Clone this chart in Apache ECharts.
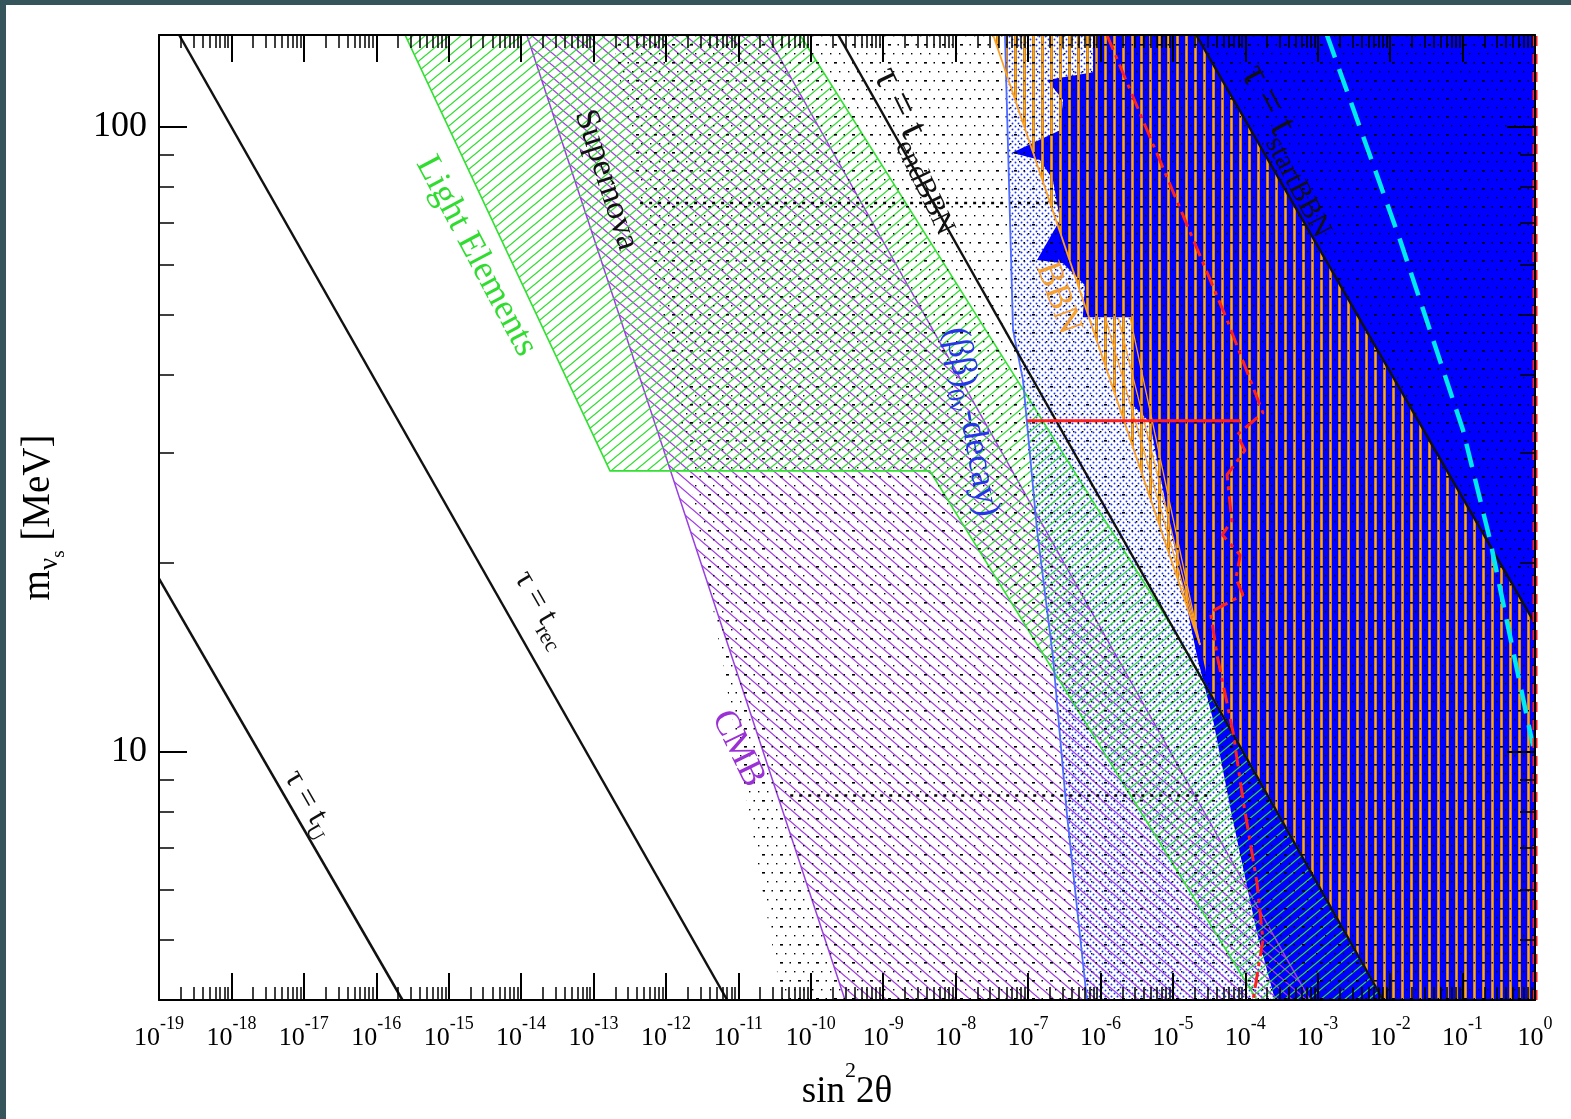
<!DOCTYPE html>
<html><head><meta charset="utf-8">
<script src="https://cdn.jsdelivr.net/npm/echarts@6/dist/echarts.min.js"></script>
<style>
html,body{margin:0;padding:0;background:#36555a;width:1571px;height:1119px;overflow:hidden}
#c{position:absolute;left:6px;top:5px;width:1565px;height:1114px;background:#fff}
</style></head><body><div id="c"></div>
<script>
// ---------------- data ----------------
const sin2Range = [1e-19, 1];
const massRange = [4, 140];
const xTickExponents = [-19,-18,-17,-16,-15,-14,-13,-12,-11,-10,-9,-8,-7,-6,-5,-4,-3,-2,-1,0];
const xMinorMultipliers = [2,3,4,5,6,7,8,9];
const yTickLabels = [10, 100];
const yMinorTicks = [5,6,7,8,9,20,30,40,50,60,70,80,90];

// lifetime lines  [sin^2 2theta, m (MeV)]
const tauU        = [[1e-19,18.9],[2.3e-16,4]];
const tauRec      = [[1.9e-19,140],[7e-12,4]];
const tauEndBBN   = [[2.4e-10,140],[8e-3,4]];
const tauStartBBN = [[2.1e-5,140],[1,16]];

// exclusion regions
const lightElements = [[2.5e-16,140],[7.1e-11,140],[7.05e-8,39.3],[8.4e-7,24.8],[1.25e-5,15.1],[8e-3,4],[1.45e-4,4],[4.4e-9,28.1],[1.69e-13,28.1]];
const supernovaCMB  = [[1.2e-14,140],[2.48e-11,140],[7.8e-4,4],[2.97e-10,4]];
const dottedRegion  = [[1.8e-13,140],[1,140],[1,4],[4e-11,4]];
const bbDecayEdge   = [[4.8e-8,140],[5.3e-8,91.6],[6.2e-8,47.2],[8.5e-8,39.3],[1.33e-7,22.6],[2.2e-7,14.2],[3.45e-7,7.91],[6.5e-7,4]];
const bbDecayRegion = bbDecayEdge.concat([[1,4],[1,140]]);
const blueRegion    = [[7.9e-7,140],[7.9e-7,122.1],[1.83e-7,118.6],[3.04e-7,110.2],[2.76e-7,98.6],[6.0e-8,90.7],[1.46e-7,88.3],[2.2e-7,82.1],[2.76e-7,70.8],[1.33e-7,61.1],[3.04e-7,60.4],[6.1e-7,55.7],[5.7e-7,49.5],[2.8e-6,49.5],[2.8e-6,35.8],[4.8e-6,33.6],[7.8e-6,25.2],[2.15e-5,14.2],[3.6e-5,11.2],[6.5e-5,7.91],[1.45e-4,5.12],[2.57e-4,4],[1,4],[1,140]];
const bbnRegion     = [[3.3e-8,140],[2.37e-5,14.8],[3.47e-5,12.1],[8e-3,4],[1,4],[1,16],[2.1e-5,140]];
const bbnEdge       = [[3.3e-8,140],[2.37e-5,14.8]];
const bbnFan1       = [[1.16e-6,49.5],[2.37e-5,14.8]];
const bbnFan2       = [[1.75e-6,49.5],[2.37e-5,14.8]];
const bbnFan3       = [[2.56e-6,49.5],[2.37e-5,14.8]];

// other curves
const redDashDot = [[1.23e-6,140],[5.6e-5,49.0],[1.75e-4,34.8],[7.7e-5,32.1],[9.9e-5,30.3],[5.6e-5,27.7],[6.5e-5,23.4],[4.8e-5,22.2],[8.5e-5,20.6],[7.4e-5,18.9],[9.3e-5,17.8],[3.3e-5,16.7],[4.1e-5,14.2],[6.8e-5,10.7],[9.3e-5,8.36],[1.45e-4,6.16],[1.75e-4,4.99],[1.28e-4,4]];
const redHorizontal = [[9.7e-8,33.8],[8.5e-5,33.8]];
const cyanDashed = [[1.34e-3,140],[1.37e-2,65.8],[0.101,32.7],[0.239,21.8],[0.497,14.5],[0.94,10.2]];
const rightEdgeRed = [[1,4],[1,140]];
const dotRowUpper = [[4.4e-13,75.4],[2.8e-7,75.4]];
const dotRowLower = [[5.2e-11,8.5],[3.6e-5,8.5]];

// region / line labels
const labelTexts = ['{a|τ = t}{b|U}','{a|τ = t}{b|rec}','{a|τ = t}{b|endBBN}','{a|τ = t}{b|startBBN}',
  '{a|Light Elements}','{a|Supernova}','{a|CMB}','{a|(ββ)}{b|0ν}{a|-decay)}','{a|BBN}'];
const labelAnchors = [[1.1e-17,8.2],[1.8e-14,16.8],[3.0e-9,91.6],[4.1e-4,91.6],[2.4e-15,62.0],[1.5e-13,82.1],[9.9e-12,10.1],[1.5e-8,33.6],[2.6e-7,53.1]];

// ---------------- styles ----------------
const FONT = '"Liberation Serif","DejaVu Serif",serif';
const labelColors = ['#111','#111','#111','#111','#2fdc2f','#111','#9a30d6','#2336e8','#f5a030'];
const labelAngles = [60,60,64,62,62,72,64,80,70];
const labelSizes  = [32,32,42,42,36,34,36,36,36];

const L = v => Math.log10(v);
const toLog = arr => arr.map(p => [L(p[0]), L(p[1])]);

function tile(w,h,draw){const c=document.createElement('canvas');c.width=w;c.height=h;const g=c.getContext('2d');draw(g,w,h);return {image:c,repeat:'repeat'};}
const greenHatch = tile(12,10,(g,w,h)=>{g.strokeStyle='#2edc2e';g.lineWidth=1.3;for(let k=0;k<=3;k++){g.beginPath();g.moveTo(k*w+w,-h);g.lineTo(k*w-2*w,2*h);g.stroke();}});
const purpleHatch = tile(14,12,(g,w,h)=>{g.strokeStyle='#a03ce0';g.lineWidth=1.3;for(let k=-1;k<=1;k++){g.beginPath();g.moveTo(k*w-w,-h);g.lineTo(k*w+2*w,2*h);g.stroke();}});
const blackDots = tile(18,18,(g)=>{g.fillStyle='#000';g.fillRect(0,3,3,1.6);g.fillRect(9.5,3,1.5,1.5);g.fillRect(5,12,1.4,1.4);g.fillRect(14,12,1.4,1.4);});
const blueDots = tile(6,6,(g)=>{g.fillStyle='#1530ff';g.beginPath();g.arc(1.5,1.5,0.95,0,7);g.fill();g.beginPath();g.arc(4.5,4.5,0.95,0,7);g.fill();});
const orangeStripes = tile(9,4,(g)=>{g.fillStyle='#9a6418';g.fillRect(0,0,3,4);g.fillStyle='#ffa41f';g.fillRect(0.5,0,2,4);});

function polySeries(name, pts, style){
  const data = toLog(pts);
  return {type:'custom', name, xAxisIndex:0, yAxisIndex:0, silent:true, clip:true, data,
    encode:{x:0,y:1},
    renderItem:(params, api)=>{
      if (params.dataIndex !== 0) return null;
      const points = data.map(d => api.coord(d));
      return {type:'polygon', shape:{points}, style:Object.assign({}, style)};
    }};
}
function lineSeries(name, pts, lineStyle, extra){
  return Object.assign({type:'line', name, xAxisIndex:0, yAxisIndex:0, data:toLog(pts), showSymbol:false, symbol:'none', silent:true, lineStyle}, extra||{});
}

const xMinorLog = [];
xTickExponents.slice(0,-1).forEach(e => xMinorMultipliers.forEach(k => xMinorLog.push(e + L(k))));
const yMinorLog = yMinorTicks.map(L);
const yMajorLog = yTickLabels.map(L);

const xmin = L(sin2Range[0]), xmax = L(sin2Range[1]);
const ymin = L(massRange[0]), ymax = L(massRange[1]);
const gridRect = {left:153, top:30, right:36, bottom:119, containLabel:false, outerBoundsMode:'none'};
const blackLine = {color:'#000', width:2};

function xAx(grid, pos, major, labels){
  const a = {type:'value', gridIndex:grid, position:pos, min:xmin, max:xmax, z:10,
    splitLine:{show:false},
    axisLine:{show:major, onZero:false, lineStyle:blackLine},
    axisTick:{inside:true, length: major?27:13, lineStyle:{color:'#000', width: major?2:1.5}},
    axisLabel:{show:false}};
  if (major) a.interval = 1; else a.axisTick.customValues = xMinorLog;
  if (labels){
    a.axisLabel = {show:true, margin:15, formatter: v => '{b|10}{s|' + v + '}',
      rich:{b:{fontFamily:FONT,fontSize:26,color:'#000',verticalAlign:'top',padding:[10,0,0,0]},
            s:{fontFamily:FONT,fontSize:18,color:'#000',verticalAlign:'top'}}};
    a.name = '{a|sin}{s|2}{a|2θ}';
    a.nameLocation = 'middle'; a.nameGap = 60;
    a.nameTextStyle = {rich:{a:{fontFamily:FONT,fontSize:37,color:'#000',verticalAlign:'top',padding:[14,0,0,0]},
                             s:{fontFamily:FONT,fontSize:22,color:'#000',verticalAlign:'top'}}};
  }
  return a;
}
function yAx(grid, pos, major, labels){
  const a = {type:'value', gridIndex:grid, position:pos, min:ymin, max:ymax, z:10,
    splitLine:{show:false},
    axisLine:{show:major, onZero:false, lineStyle:blackLine},
    axisTick:{inside:true, length: major?28:15, customValues: major?yMajorLog:yMinorLog, lineStyle:{color:'#000', width: major?2:1.5}},
    axisLabel:{show:false}};
  if (labels){
    a.axisLabel = {show:true, customValues: yMajorLog, margin:12, fontFamily:FONT, fontSize:36, color:'#000',
      formatter: v => String(Math.round(Math.pow(10, v)))};
    a.name = '{a|m}{b|ν}{c|s}{a| [MeV]}';
    a.nameLocation = 'middle'; a.nameRotate = 90; a.nameGap = 90;
    a.nameTextStyle = {rich:{a:{fontFamily:FONT,fontSize:39,color:'#000',verticalAlign:'top'},
                             b:{fontFamily:FONT,fontSize:27,color:'#000',verticalAlign:'top',padding:[17,0,0,0]},
                             c:{fontFamily:FONT,fontSize:19,color:'#000',verticalAlign:'top',padding:[31,0,0,0]}}};
  }
  return a;
}

const tauStyle = {color:'#111', width:2.5, type:'solid'};
const labelData = toLog(labelAnchors);

const option = {
  animation:false,
  backgroundColor:'#fff',
  grid:[Object.assign({}, gridRect), Object.assign({}, gridRect)],
  xAxis:[xAx(0,'bottom',true,true), xAx(0,'top',true,false), xAx(1,'bottom',false,false), xAx(1,'top',false,false)],
  yAxis:[yAx(0,'left',true,true), yAx(0,'right',true,false), yAx(1,'left',false,false), yAx(1,'right',false,false)],
  series:[
    polySeries('bbDecay', bbDecayRegion, {fill:blueDots}),
    polySeries('blueSolid', blueRegion, {fill:'#0000ff'}),
    polySeries('supernovaCMB', supernovaCMB, {fill:purpleHatch, stroke:'#9a3ee0', lineWidth:1.5}),
    polySeries('lightElements', lightElements, {fill:greenHatch, stroke:'#33e033', lineWidth:1.6}),
    polySeries('bbn', bbnRegion, {fill:orangeStripes}),
    polySeries('dots', dottedRegion, {fill:blackDots}),
    lineSeries('dotRowUpper', dotRowUpper, {color:'#000', width:2.5, type:[3,6]}),
    lineSeries('dotRowLower', dotRowLower, {color:'#000', width:2.5, type:[3,6]}),
    lineSeries('bbEdge', bbDecayEdge, {color:'#4d6bff', width:1.8}),
    lineSeries('bbnEdge', bbnEdge, {color:'#ffa020', width:1.8}),
    lineSeries('bbnFan1', bbnFan1, {color:'#ffa020', width:1.3}),
    lineSeries('bbnFan2', bbnFan2, {color:'#ffa020', width:1.3}),
    lineSeries('bbnFan3', bbnFan3, {color:'#ffa020', width:1.3}),
    lineSeries('tauU', tauU, tauStyle),
    lineSeries('tauRec', tauRec, tauStyle),
    lineSeries('tauEnd', tauEndBBN, tauStyle),
    lineSeries('tauStart', tauStartBBN, tauStyle),
    lineSeries('redH', redHorizontal, {color:'#ff2020', width:3}),
    lineSeries('redDD', redDashDot, {color:'#ff2020', width:3, type:[16,6,4,6]}),
    lineSeries('cyan', cyanDashed, {color:'#00e8f0', width:4.5, type:[24,12]}),
    lineSeries('rightRed', rightEdgeRed, {color:'#ff2020', width:5, type:[10,8]}, {clip:false}),
    {type:'custom', name:'labels', xAxisIndex:0, yAxisIndex:0, silent:true, z:20, data:labelData, encode:{x:0,y:1},
      renderItem:(params, api)=>{
        const i = params.dataIndex;
        const p = api.coord([api.value(0), api.value(1)]);
        const col = labelColors[i], fs = labelSizes[i];
        return {type:'text', x:p[0], y:p[1], rotation:-labelAngles[i]*Math.PI/180,
          style:{text:labelTexts[i], fill:col, fontFamily:FONT, fontSize:fs, align:'center', verticalAlign:'middle',
            rich:{a:{fill:col,fontFamily:FONT,fontSize:fs,verticalAlign:'top'},
                  b:{fill:col,fontFamily:FONT,fontSize:Math.round(fs*0.68),verticalAlign:'top',padding:[Math.round(fs*0.5),0,0,0]}}}};
      }}
  ]
};
const chart = echarts.init(document.getElementById('c'), null, {renderer:'canvas'});
chart.setOption(option);
</script></body></html>
